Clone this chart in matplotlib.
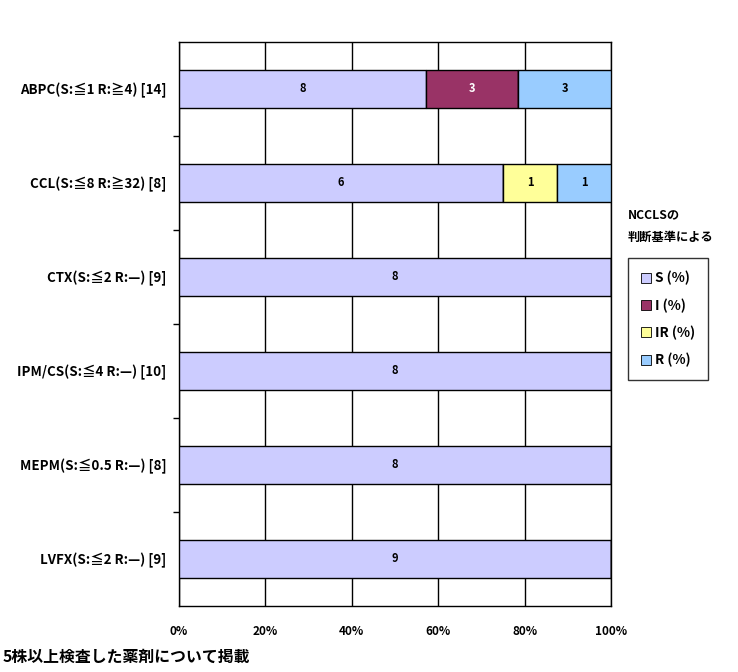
"""Stacked 100% bar chart of NCCLS susceptibility categories per drug."""

import numpy as np
import matplotlib
matplotlib.use("Agg")
import matplotlib.pyplot as plt
from matplotlib.patches import Patch

plt.rcParams["font.family"] = ["Noto Sans CJK JP", "DejaVu Sans"]

drugs = [
    "ABPC(S:≦1 R:≧4) [14]",
    "CCL(S:≦8 R:≧32) [8]",
    "CTX(S:≦2 R:—) [9]",
    "IPM/CS(S:≦4 R:—) [10]",
    "MEPM(S:≦0.5 R:—) [8]",
    "LVFX(S:≦2 R:—) [9]",
]
s_counts = [8, 6, 8, 8, 8, 9]
i_counts = [3, 0, 0, 0, 0, 0]
ir_counts = [0, 1, 0, 0, 0, 0]
r_counts = [3, 1, 0, 0, 0, 0]

series_names = ["S (%)", "I (%)", "IR (%)", "R (%)"]
colors = ["#CCCCFF", "#993366", "#FFFF99", "#99CCFF"]
text_colors = ["black", "white", "black", "black"]
x_ticks = ["0%", "20%", "40%", "60%", "80%", "100%"]

counts = np.array([s_counts, i_counts, ir_counts, r_counts], dtype=float)
totals = counts.sum(axis=0)
pcts = counts / totals * 100

fig = plt.figure(figsize=(7.38, 6.72), dpi=100)
ax = fig.add_axes([179 / 738, 1 - 606 / 672, 432 / 738, 564 / 672])

y = np.arange(len(drugs))
left = np.zeros(len(drugs))
for k in range(len(series_names)):
    ax.barh(y, pcts[k], left=left, height=0.4, color=colors[k],
            edgecolor="black", linewidth=1.0, zorder=3)
    for j in range(len(drugs)):
        if counts[k, j] > 0:
            ax.text(left[j] + pcts[k, j] / 2, y[j], f"{int(counts[k, j])}",
                    ha="center", va="center", fontsize=8, fontweight="bold",
                    color=text_colors[k], zorder=4)
    left += pcts[k]

ax.set_xlim(0, 100)
ax.set_ylim(len(drugs) - 0.5, -0.5)
ax.set_xticks(np.linspace(0, 100, 6))
ax.set_xticklabels(x_ticks, fontsize=8.5, fontweight="bold")
ax.tick_params(axis="x", length=0, pad=14)
ax.set_yticks(y)
ax.set_yticklabels(drugs, fontsize=9.6, fontweight="bold")
ax.tick_params(axis="y", which="major", length=0, pad=9)
ax.set_yticks(np.arange(0.5, len(drugs) - 0.5, 1.0), minor=True)
ax.tick_params(axis="y", which="minor", length=4, width=1, direction="out")
ax.grid(True, axis="x", color="black", linewidth=1.0, zorder=0)
for sp in ax.spines.values():
    sp.set_linewidth(1.0)
    sp.set_color("black")

# legend title and box
fig.text(628 / 738, 1 - 215 / 672, "NCCLSの", fontsize=8.8, fontweight="bold",
         va="center", ha="left")
fig.text(628 / 738, 1 - 237 / 672, "判断基準による", fontsize=8.8,
         fontweight="bold", va="center", ha="left")
handles = [Patch(facecolor=c, edgecolor="black", linewidth=0.6) for c in colors]
leg = fig.legend(handles, series_names, loc="upper left",
                 bbox_to_anchor=(628 / 738, 1 - 258 / 672),
                 frameon=True, fancybox=False, edgecolor="black",
                 prop={"size": 9.8, "weight": "bold"}, handlelength=0.75,
                 handleheight=0.75, handletextpad=0.3, labelspacing=0.95,
                 borderpad=0.95, borderaxespad=0)
leg.get_frame().set_linewidth(1.0)

fig.text(3 / 738, 1 - 657 / 672, "5株以上検査した薬剤について掲載",
         fontsize=11.4, fontweight="bold", va="center", ha="left")

fig.savefig("out.png", dpi=100)
plt.close(fig)
